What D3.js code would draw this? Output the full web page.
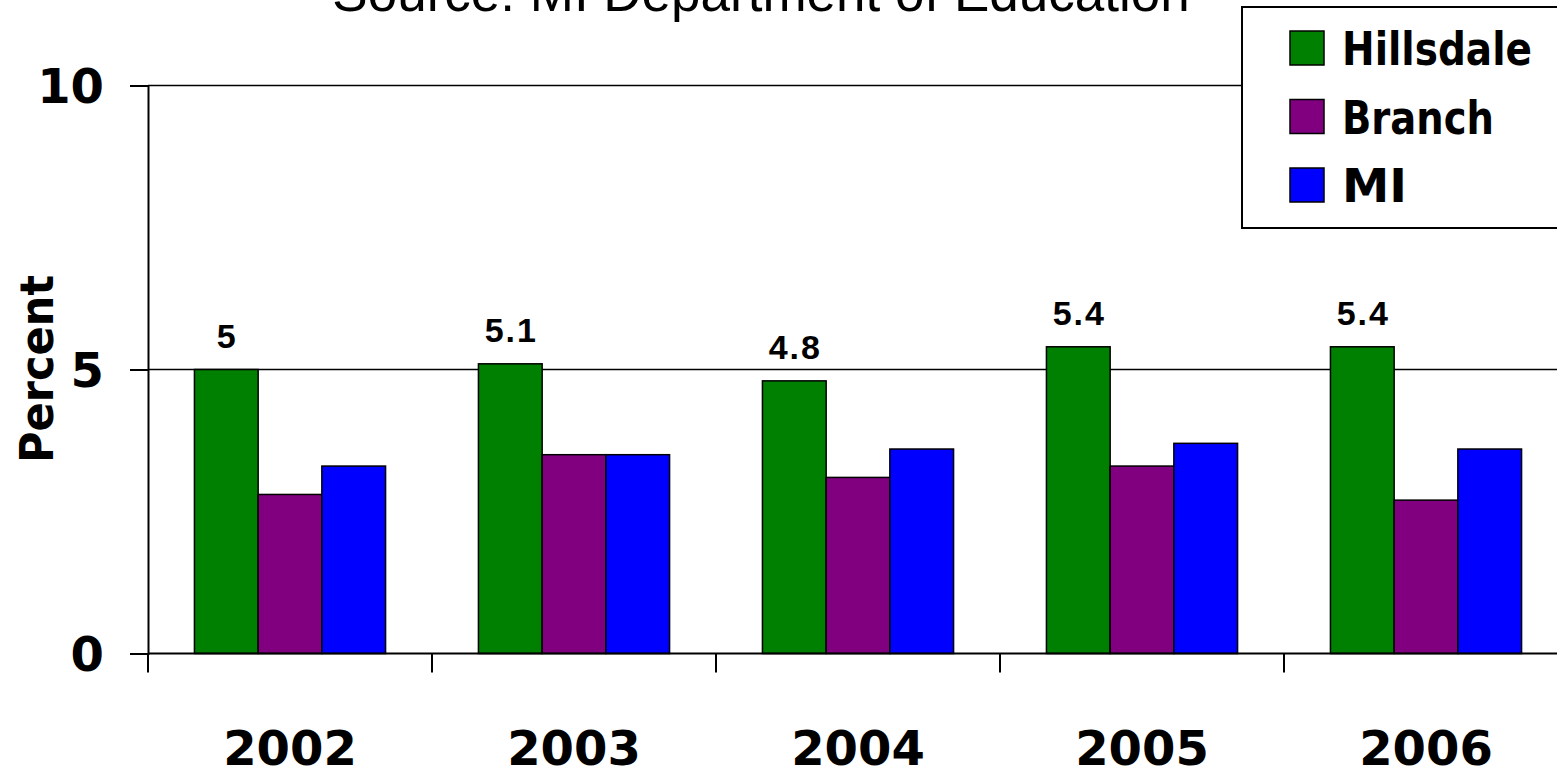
<!DOCTYPE html>
<html>
<head>
<meta charset="utf-8">
<script src="https://cdn.jsdelivr.net/npm/d3@7"></script>
<style>
  body { margin: 0; background: #fff; }
  .comic { font-family: "Comic Sans MS", "DejaVu Sans", sans-serif; font-weight: bold; }
</style>
</head>
<body>
<div id="vis"></div>
<script>
// chart data
const years = ["2002", "2003", "2004", "2005", "2006"];
const series = ["Hillsdale", "Branch", "MI"];
const hillsdale = [5, 5.1, 4.8, 5.4, 5.4];
const branch = [2.8, 3.5, 3.1, 3.3, 2.7];
const mi = [3.3, 3.5, 3.6, 3.7, 3.6];
const yTicks = [0, 5, 10];
const colors = ["#008000", "#800080", "#0000ff"];
const legendWidths = [190, 152, 65];

const W = 1557, H = 771;

let svg = d3.select("#vis")
  .append("svg")
  .attr("width", W)
  .attr("height", H);

// scales
let x0 = d3.scaleBand()
  .domain(years)
  .range([148, 1568])
  .paddingInner(0.327)
  .paddingOuter(0.1635);

let x1 = d3.scaleBand()
  .domain(series)
  .range([0, x0.bandwidth()]);

let y = d3.scaleLinear()
  .domain([0, 10])
  .range([653.5, 85.5]);

let color = d3.scaleOrdinal().domain(series).range(colors);

// rows for grouped bars
let rows = years.map((yr, i) => ({
  year: yr,
  values: [hillsdale[i], branch[i], mi[i]]
}));

// title (cut off at top like the original)
svg.append("text")
  .attr("x", 761)
  .attr("y", 11)
  .attr("text-anchor", "middle")
  .style("font-family", "'Liberation Sans', Arial, sans-serif")
  .style("font-size", "53px")
  .text("Source: MI Department of Education");

// gridlines
svg.append("g")
  .selectAll("line")
  .data(yTicks.filter(d => d > 0))
  .join("line")
  .attr("x1", 148)
  .attr("x2", 1568)
  .attr("y1", d => y(d))
  .attr("y2", d => y(d))
  .attr("stroke", "#000")
  .attr("stroke-width", 1.5);

// y axis
let yAxis = svg.append("g")
  .attr("transform", "translate(148,0)")
  .call(d3.axisLeft(y).tickValues(yTicks).tickSize(18).tickPadding(26).tickFormat(d3.format("d")));
yAxis.select(".domain").attr("stroke-width", 2);
yAxis.selectAll(".tick line").attr("stroke-width", 2);
yAxis.selectAll("text")
  .attr("class", "comic")
  .style("font-size", "48px")
  .attr("fill", "#000")
  .attr("dy", "0.36em");

// y axis title
svg.append("text")
  .attr("class", "comic")
  .attr("transform", "translate(53,369) rotate(-90)")
  .attr("text-anchor", "middle")
  .attr("textLength", 188)
  .attr("lengthAdjust", "spacingAndGlyphs")
  .style("font-size", "46px")
  .text("Percent");

// bars
svg.append("g")
  .selectAll("g")
  .data(rows)
  .join("g")
  .attr("transform", d => `translate(${x0(d.year)},0)`)
  .selectAll("rect")
  .data(d => series.map((key, j) => ({ key: key, value: d.values[j] })))
  .join("rect")
  .attr("x", d => x1(d.key))
  .attr("y", d => y(d.value))
  .attr("width", x1.bandwidth())
  .attr("height", d => y(0) - y(d.value))
  .attr("fill", d => color(d.key))
  .attr("stroke", "#000")
  .attr("stroke-width", 1.5);

// value labels on Hillsdale bars
svg.append("g")
  .selectAll("text")
  .data(rows)
  .join("text")
  .attr("x", d => x0(d.year) + x1("Hillsdale") + x1.bandwidth() / 2 + 1)
  .attr("y", d => y(d.values[0]) - 22)
  .attr("text-anchor", "middle")
  .style("font-family", "'Liberation Sans', Arial, sans-serif")
  .style("font-weight", "bold")
  .style("font-size", "34px")
  .style("letter-spacing", "2px")
  .text(d => d.values[0]);

// x axis line and ticks at category boundaries
let half = x0.step() * x0.paddingOuter();
let bounds = years.map(d => x0(d) - half).concat([x0(years[years.length - 1]) - half + x0.step()]);

svg.append("line")
  .attr("x1", 148)
  .attr("x2", 1568)
  .attr("y1", y(0))
  .attr("y2", y(0))
  .attr("stroke", "#000")
  .attr("stroke-width", 2);

svg.append("g")
  .selectAll("line")
  .data(bounds)
  .join("line")
  .attr("x1", d => d)
  .attr("x2", d => d)
  .attr("y1", y(0))
  .attr("y2", y(0) + 19)
  .attr("stroke", "#000")
  .attr("stroke-width", 2);

svg.append("g")
  .selectAll("text")
  .data(years)
  .join("text")
  .attr("class", "comic")
  .attr("x", d => x0(d) + x0.bandwidth() / 2)
  .attr("y", 765)
  .attr("text-anchor", "middle")
  .style("font-size", "48px")
  .text(d => d);

// legend
let legend = svg.append("g");
legend.append("rect")
  .attr("x", 1242)
  .attr("y", 7)
  .attr("width", 400)
  .attr("height", 221)
  .attr("fill", "#fff")
  .attr("stroke", "#000")
  .attr("stroke-width", 2);

let item = legend.selectAll("g")
  .data(series)
  .join("g")
  .attr("transform", (d, i) => `translate(1290,${31 + i * 68.5})`);

item.append("rect")
  .attr("width", 34)
  .attr("height", 34)
  .attr("fill", d => color(d))
  .attr("stroke", "#000")
  .attr("stroke-width", 1.5);

item.append("text")
  .attr("class", "comic")
  .attr("x", 52)
  .attr("y", 34)
  .attr("textLength", (d, i) => legendWidths[i])
  .attr("lengthAdjust", "spacingAndGlyphs")
  .style("font-size", "46px")
  .text(d => d);
</script>
</body>
</html>
